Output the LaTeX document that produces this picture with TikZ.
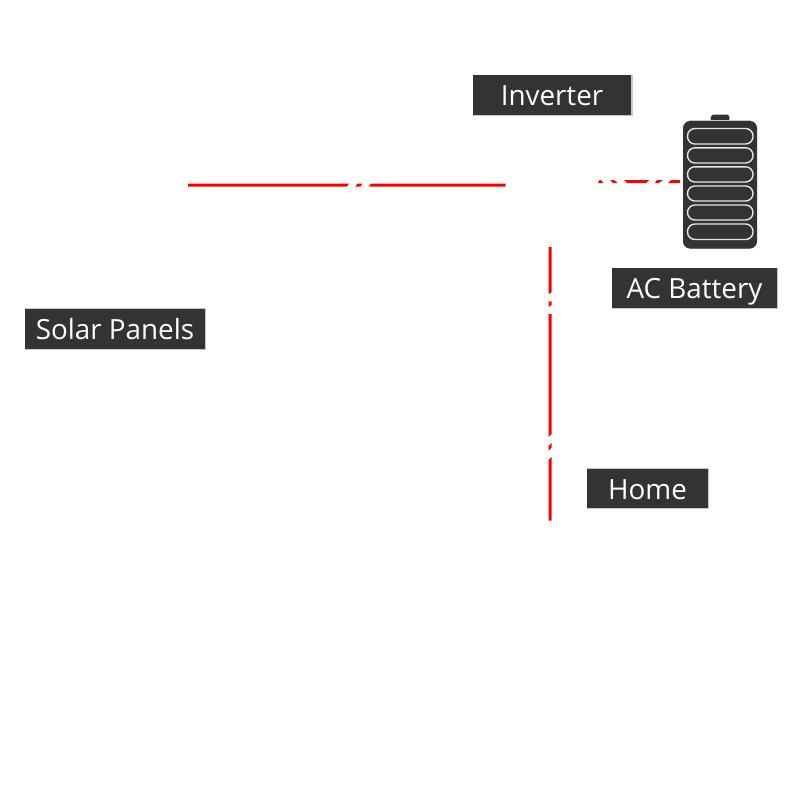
\documentclass[tikz,border=0pt]{standalone}
\usepackage{fontspec}
\setmainfont{Open Sans}
\definecolor{dark}{HTML}{333333}
\definecolor{edge}{HTML}{C8C8C8}
\definecolor{wire}{HTML}{FF0000}
\tikzset{
  labelbox/.style={fill=dark,text=white,draw=none,inner sep=0pt,text height=21pt,text depth=0pt,font=\fontsize{27.8}{32}\selectfont},
  wireseg/.style={fill=wire,draw=none},
  pill/.style={draw=white!90!black,line width=1.4pt,fill=dark,rounded corners=7.4pt},
}
\begin{document}
\begin{tikzpicture}[x=1pt,y=-1pt]
\useasboundingbox (0,0) rectangle (800,800);
% labels
\fill[edge] (473,75) rectangle (632.5,115.5);
\node[labelbox,minimum width=158pt,minimum height=39.5pt] (inverter) at (552,95) {Inverter};
\fill[edge] (612,268) rectangle (777.5,308.5);
\node[labelbox,minimum width=164.5pt,minimum height=39.5pt] (battlabel) at (694.5,288) {AC Battery};
\fill[edge] (25,308) rectangle (205.5,349.5);
\node[labelbox,minimum width=179.5pt,minimum height=40pt] (solar) at (115,328.5) {Solar Panels};
\fill[edge] (587,468) rectangle (708.5,508.5);
\node[labelbox,minimum width=120.5pt,minimum height=39.5pt] (home) at (647.5,488.5) {Home};
% horizontal wire to inverter
\fill[wireseg] (188,183.5) -- (349,183.5) -- (347,186.5) -- (188,186.5) -- cycle;
\fill[wireseg] (357.5,183.5) -- (362.5,183.5) -- (360.5,186.5) -- (355.5,186.5) -- cycle;
\fill[wireseg] (371,183.5) -- (505.5,183.5) -- (505.5,186.5) -- (369,186.5) -- cycle;
% wire to battery
\fill[wireseg] (599.5,180) -- (601,180) -- (603.5,183) -- (598,183) -- cycle;
\fill[wireseg] (610,180) -- (614,180) -- (617.5,183) -- (613,183) -- cycle;
\fill[wireseg] (624,180) -- (649.5,180) -- (646,183) -- (627,183) -- cycle;
\fill[wireseg] (657,180) -- (663,180) -- (659,183) -- (655,183) -- cycle;
\fill[wireseg] (671,180) -- (680,180) -- (680,183) -- (668,183) -- cycle;
% vertical wire to home
\fill[wireseg] (548.5,247) -- (551.5,247) -- (551.5,292) -- (550,293.5) -- (548.5,293.5) -- cycle;
\fill[wireseg] (548.5,301) -- (550,302) -- (551.5,301) -- (551.5,305) -- (549.5,306.5) -- (548.5,306.5) -- cycle;
\fill[wireseg] (548.5,314) -- (551.5,314) -- (551.5,434) -- (548.5,437) -- cycle;
\fill[wireseg] (551.5,443) -- (551.5,447.5) -- (548.5,451) -- (548.5,446) -- cycle;
\fill[wireseg] (551.5,457) -- (551.5,520.5) -- (548.5,520.5) -- (548.5,460) -- cycle;
% battery
\fill[dark,rounded corners=2.5pt] (710,120.5) -- (711.5,114.5) -- (729,114.5) -- (730,120.5) -- cycle;
\fill[edge] (689,120) rectangle (751,122);
\fill[edge] (689,247.5) rectangle (751,249);
\fill[dark,rounded corners=7pt] (683,121) rectangle (757,248.5);
\foreach \t/\b in {128.5/144,147.8/163,166.8/182,186/201,205/220,224/239.5}{
  \draw[pill] (687.5,\t) rectangle (753,\b);
}
\end{tikzpicture}
\end{document}
